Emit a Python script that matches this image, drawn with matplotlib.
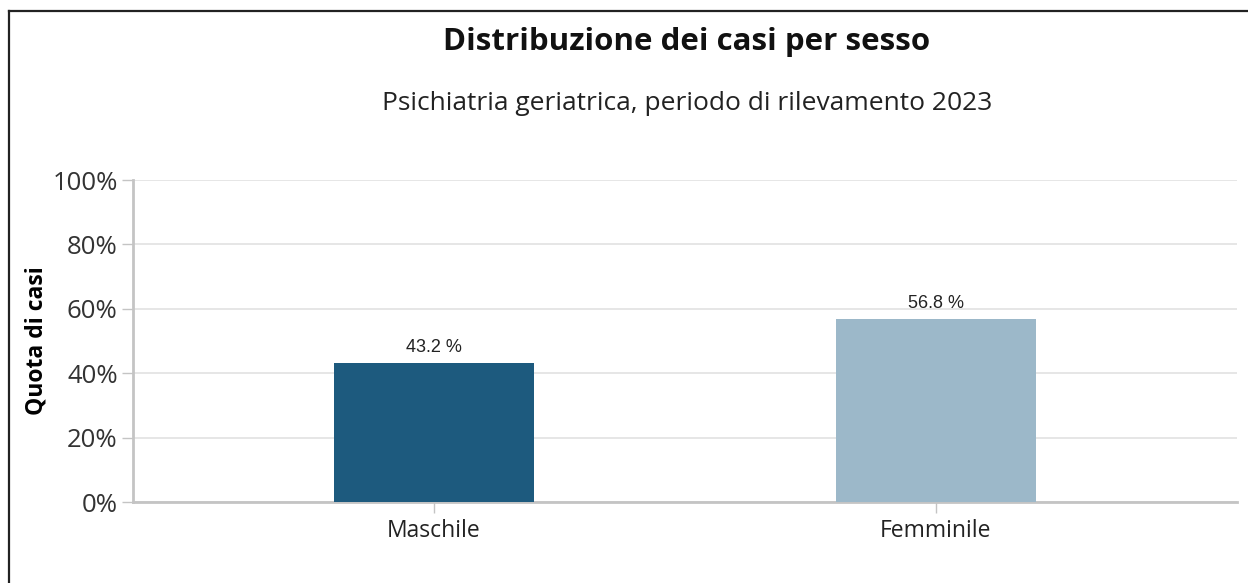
import matplotlib
matplotlib.use("Agg")
import matplotlib.pyplot as plt
from matplotlib.lines import Line2D

categories = ["Maschile", "Femminile"]
shares = [43.2, 56.8]
bar_colors = ["#1d5a7e", "#9cb8c9"]
y_ticks = [0, 20, 40, 60, 80, 100]
y_tick_labels = ["0%", "20%", "40%", "60%", "80%", "100%"]

plt.rcParams['font.family'] = ['Open Sans', 'DejaVu Sans']

W, H = 1248, 583
fig = plt.figure(figsize=(W / 100, H / 100), dpi=100)
ax = fig.add_axes([133 / W, 81 / H, 1104 / W, 322 / H])

x = list(range(len(categories)))
bars = ax.bar(x, shares, width=0.4, color=bar_colors, zorder=3)

for b, v in zip(bars, shares):
    ax.text(b.get_x() + b.get_width() / 2, v + 2.2, f"{v:.1f} %",
            ha='center', va='bottom', fontsize=13, color='#222222',
            family='Liberation Sans', zorder=4)

ax.set_xlim(-0.6, 1.6)
ax.set_ylim(0, 100)
ax.set_xticks(x)
ax.set_xticklabels(categories, fontsize=16.5, color='#222222')
ax.set_yticks(y_ticks)
ax.set_yticklabels(y_tick_labels, fontsize=18.5, color='#333333')
ax.yaxis.grid(True, color='#e2e2e2', linewidth=1.2, zorder=0)
ax.set_axisbelow(True)

for side in ['top', 'right']:
    ax.spines[side].set_visible(False)
for side in ['left', 'bottom']:
    ax.spines[side].set_color('#c4c4c4')
    ax.spines[side].set_linewidth(2)
ax.tick_params(axis='y', length=8, width=1, color='#c4c4c4', pad=3)
ax.tick_params(axis='x', length=8, width=1, color='#c4c4c4', pad=4)

ax.set_ylabel("Quota di casi", fontsize=16.5, fontweight='bold')
ax.yaxis.set_label_coords(-(133 - 48) / 1104, 0.5)

fig.text(687 / W, 1 - 42 / H, "Distribuzione dei casi per sesso",
         ha='center', va='center', fontsize=22.5, fontweight='bold', color='#111111')
fig.text(687 / W, 1 - 103 / H, "Psichiatria geriatrica, periodo di rilevamento 2023",
         ha='center', va='center', fontsize=19, color='#222222')

# frame only on the left and top edges
fig.add_artist(Line2D([8.5 / W, 8.5 / W], [0, 1 - 11 / H], transform=fig.transFigure,
                      color='#222222', linewidth=1.6))
fig.add_artist(Line2D([8.5 / W, 1], [1 - 11 / H, 1 - 11 / H], transform=fig.transFigure,
                      color='#222222', linewidth=1.6))

fig.savefig("out.png", dpi=100)
